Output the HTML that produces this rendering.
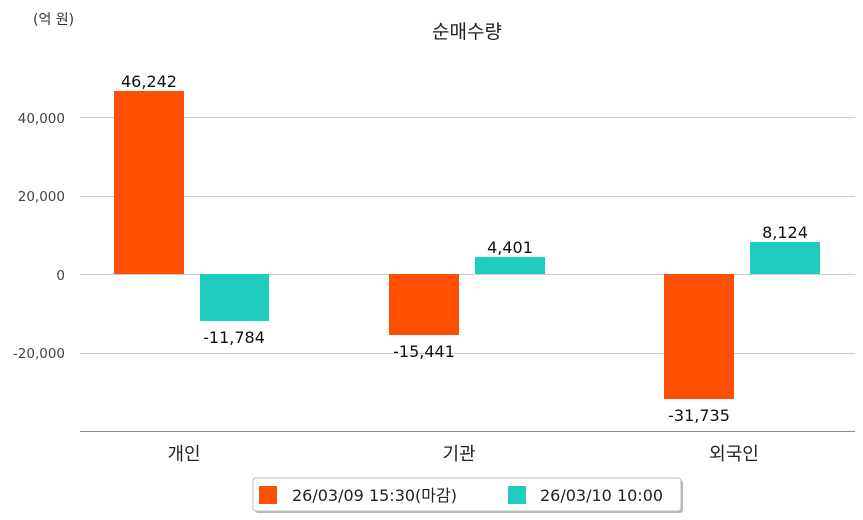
<!DOCTYPE html>
<html><head><meta charset="utf-8"><style>
body{margin:0;background:#fff;}
svg{display:block;font-family:"DejaVu Sans","Noto Sans CJK KR",sans-serif;}
</style></head><body>
<svg width="863" height="520" viewBox="0 0 863 520">
<text x="33" y="24" font-size="14" fill="#333">(억 원)</text>
<text x="467" y="38" font-size="19" fill="#222" text-anchor="middle">순매수량</text>
<g stroke="#ccc" stroke-width="1">
<line x1="80" y1="117.5" x2="855" y2="117.5"/>
<line x1="80" y1="196.5" x2="855" y2="196.5"/>
<line x1="80" y1="274.5" x2="855" y2="274.5"/>
<line x1="80" y1="353.5" x2="855" y2="353.5"/>
</g>
<line x1="80" y1="431.5" x2="855" y2="431.5" stroke="#888"/>
<g font-size="13.5" fill="#444" text-anchor="end">
<text x="65" y="123">40,000</text>
<text x="65" y="201">20,000</text>
<text x="65" y="280">0</text>
<text x="65" y="358">-20,000</text>
</g>
<rect x="114" y="91" width="70" height="183" fill="#fe5000"/>
<rect x="200" y="274" width="69" height="47" fill="#1ecdbe"/>
<rect x="389" y="274" width="70" height="61" fill="#fe5000"/>
<rect x="475" y="257" width="70" height="17" fill="#1ecdbe"/>
<rect x="664" y="274" width="70" height="125" fill="#fe5000"/>
<rect x="750" y="242" width="70" height="32" fill="#1ecdbe"/>
<g font-size="16" fill="#111" text-anchor="middle">
<text x="149" y="87">46,242</text>
<text x="234" y="343">-11,784</text>
<text x="424" y="357">-15,441</text>
<text x="510" y="253">4,401</text>
<text x="699" y="421">-31,735</text>
<text x="785" y="238">8,124</text>
</g>
<g font-size="18" fill="#222" text-anchor="middle">
<text x="184" y="460">개인</text>
<text x="459" y="460">기관</text>
<text x="734" y="460">외국인</text>
</g>
<rect x="255" y="480" width="428" height="33" rx="3" fill="#888" opacity="0.6"/>
<rect x="253" y="478" width="428" height="33" rx="3" fill="#fff" stroke="#bbb"/>
<rect x="259" y="486" width="18" height="18" fill="#fe5000"/>
<text x="292" y="501" font-size="16" fill="#222">26/03/09 15:30(마감)</text>
<rect x="508" y="486" width="18" height="18" fill="#1ecdbe"/>
<text x="540" y="501" font-size="16" fill="#222">26/03/10 10:00</text>
</svg>
</body></html>
